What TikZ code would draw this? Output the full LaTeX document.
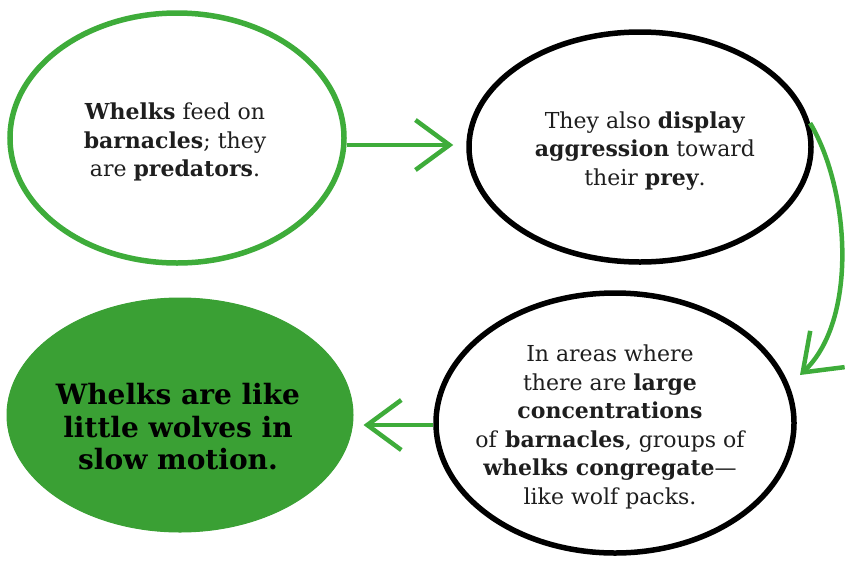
\documentclass[tikz,border=0pt]{standalone}
\usepackage{fontspec}
\setmainfont{DejaVu Serif}
\usetikzlibrary{shapes.geometric,arrows.meta}
\definecolor{wgreen}{RGB}{62,172,58}
\definecolor{wfill}{RGB}{58,160,52}
\definecolor{wtext}{RGB}{30,30,30}
\tikzset{
  bubble/.style={ellipse, line width=5.5pt, inner sep=0pt},
  txt/.style={align=center, text=wtext, font=\fontsize{22}{28.5}\selectfont},
  conn/.style={draw=wgreen, line width=4.5pt, -{Straight Barb[length=34pt,width=50pt,line width=4.5pt]}},
}
\begin{document}
\begin{tikzpicture}[x=1pt,y=-1pt]
\useasboundingbox (0,0) rectangle (850,560);
\node[bubble, draw=wgreen, minimum width=334pt, minimum height=250pt] (e1) at (177,138) {};
\node[bubble, draw=black, minimum width=342pt, minimum height=230pt] (e2) at (640,147) {};
\node[bubble, draw=black, minimum width=358pt, minimum height=260pt] (e3) at (615,423) {};
\node[bubble, draw=wfill, fill=wfill, minimum width=346pt, minimum height=234pt, line width=1pt] (e4) at (180,415) {};
\node[txt] (t1) at (175,142) {\textbf{Whelks} feed on\\\textbf{barnacles}; they\\are \textbf{predators}.};
\node[txt] (t2) at (645,151) {They also \textbf{display}\\\textbf{aggression} toward\\their \textbf{prey}.};
\node[txt] (t3) at (610,427) {In areas where\\there are \textbf{large}\\\textbf{concentrations}\\of \textbf{barnacles}, groups of\\\textbf{whelks congregate}---\\like wolf packs.};
\node[align=center, text=black, font=\fontsize{28}{32.5}\selectfont\bfseries] (t4) at (178,427) {Whelks are like\\little wolves in\\slow motion.};
\draw[conn, shorten >=13pt] (e1.east |- 0,145) -- (e2.west |- 0,145);
\draw[conn] (e2.8) .. controls (850,190) and (858,320) .. (800,375);
\draw[conn, shorten >=10pt] (e3.west |- 0,425) -- (e4.east |- 0,425);
\end{tikzpicture}
\end{document}
